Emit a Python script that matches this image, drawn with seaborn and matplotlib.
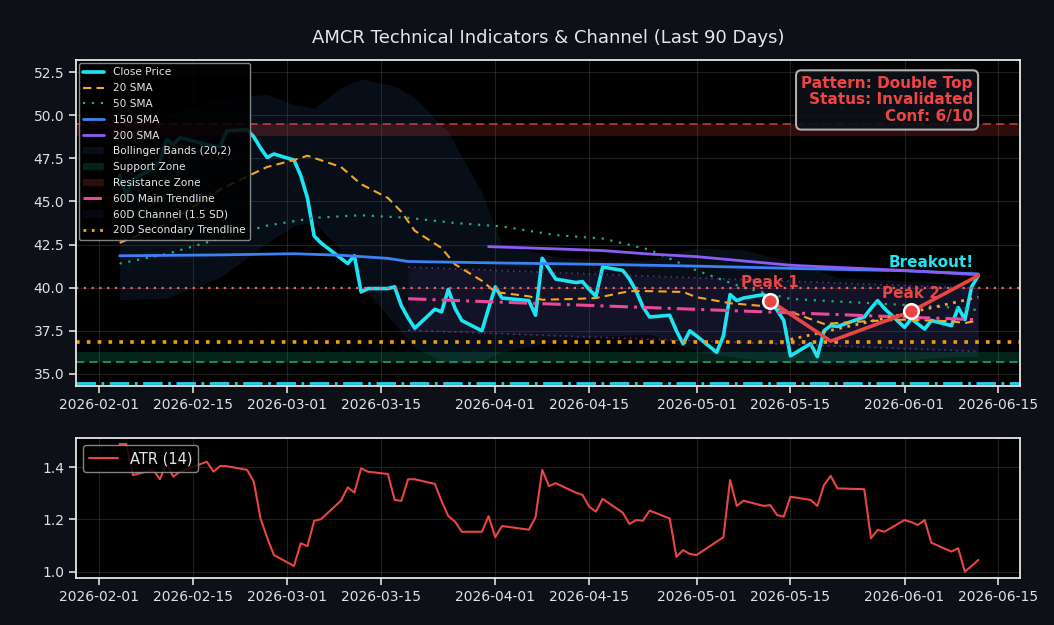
import numpy as np
import pandas as pd
import seaborn as sns
import matplotlib
matplotlib.use('Agg')
import matplotlib.pyplot as plt
import matplotlib.dates as mdates

# trading days (NYSE holidays removed)
dates = pd.bdate_range('2026-02-04', '2026-06-12', freq='C',
                       holidays=['2026-02-16', '2026-04-03', '2026-05-25'])

close = [46.5, 45.4, 46.3, 46.9, 47.3, 48.6, 48.3, 48.7, 48.3, 48.2,
         48.2, 49.1, 49.15, 48.75, 48.1, 47.55, 47.75, 47.4, 46.5, 45.2,
         43.0, 42.6, 41.7, 41.4, 41.85, 39.75, 39.95, 39.95, 40.05, 38.95,
         38.25, 37.65, 38.75, 38.6, 39.9, 38.8, 38.1, 37.5, 38.8, 40.05,
         39.4, 39.25, 38.4, 41.7, 41.1, 40.5, 40.3, 40.35, 39.9, 39.5,
         41.2, 41.0, 40.5, 39.8, 38.9, 38.3, 38.4, 37.5, 36.75, 37.5,
         37.2, 36.25, 37.2, 39.6, 39.25, 39.4, 39.6, 39.25, 38.7, 38.1,
         36.05, 36.75, 36.0, 37.5, 37.8, 37.75, 38.3, 38.8, 39.25, 38.8,
         37.7, 38.2, 37.9, 37.6, 38.1, 37.8, 38.85, 38.15, 40.05, 40.7]

atr = [1.489, 1.489, 1.370, 1.390, 1.354, 1.415, 1.364, 1.383, 1.421, 1.383,
       1.405, 1.404, 1.390, 1.345, 1.205, 1.130, 1.064, 1.022, 1.109, 1.098,
       1.195, 1.201, 1.272, 1.323, 1.303, 1.396, 1.383, 1.374, 1.275, 1.271,
       1.354, 1.354, 1.336, 1.270, 1.213, 1.192, 1.153, 1.153, 1.213, 1.132,
       1.175, 1.161, 1.209, 1.390, 1.328, 1.339, 1.303, 1.294, 1.249, 1.230,
       1.279, 1.226, 1.183, 1.198, 1.195, 1.234, 1.204, 1.057, 1.083, 1.068,
       1.064, 1.115, 1.132, 1.351, 1.252, 1.272, 1.252, 1.255, 1.217, 1.211,
       1.287, 1.275, 1.252, 1.332, 1.367, 1.319, 1.316, 1.128, 1.160, 1.153,
       1.198, 1.190, 1.179, 1.198, 1.111, 1.077, 1.090, 1.000, 1.022, 1.045]

# smooth indicators, read at selected trading-day positions
sma20_pos = [0, 5, 10, 15, 17, 19, 22, 25, 27, 29, 31, 33, 35, 37, 39, 41,
             43, 46, 49, 52, 55, 58, 60, 63, 67, 70, 73, 76, 80, 85, 87, 89]
sma20 = [42.6, 43.7, 45.7, 47.0, 47.4, 47.65, 47.0, 46.0, 45.2, 44.4, 43.3,
         42.3, 41.35, 40.4, 39.75, 39.5, 39.3, 39.35, 39.4, 39.8, 39.8, 39.75,
         39.45, 39.1, 38.9, 38.6, 37.9, 38.05, 38.15, 38.05, 37.95, 38.1]

sma50_pos = [0, 5, 10, 15, 20, 25, 30, 35, 40, 45, 50, 55, 60, 65, 70, 75, 80, 85, 89]
sma50 = [41.4, 41.95, 42.85, 43.6, 44.05, 44.2, 44.05, 43.75, 43.55, 43.05,
         42.85, 42.2, 41.0, 40.0, 39.35, 39.2, 39.0, 38.85, 38.7]

sma150_pos = [0, 10, 17, 22, 27, 30, 40, 50, 60, 70, 80, 89]
sma150 = [41.85, 41.9, 41.97, 41.88, 41.7, 41.52, 41.43, 41.35, 41.25, 41.12, 40.98, 40.8]

sma200_pos = [38, 45, 50, 55, 60, 65, 70, 80, 89]
sma200 = [42.38, 42.25, 42.15, 41.95, 41.8, 41.55, 41.3, 41.0, 40.75]

bb_pos = [0, 5, 10, 15, 17, 20, 22, 25, 28, 31, 34, 37, 40, 45, 50, 55, 60, 65,
          70, 75, 80, 85, 89]
bb_upper = [48.6, 50.0, 51.0, 51.2, 50.6, 50.4, 51.6, 52.1, 51.7, 51.0, 49.0,
            45.5, 42.5, 41.8, 41.6, 41.6, 42.3, 42.2, 41.5, 40.6, 40.4, 40.3, 40.3]
bb_lower = [39.3, 39.4, 40.6, 42.6, 43.6, 43.8, 42.2, 40.2, 37.9, 36.5, 35.6,
            35.7, 36.3, 36.9, 37.2, 37.3, 36.3, 35.9, 35.7, 35.5, 35.8, 36.0, 36.0]

# levels
resistance = 49.5
resistance_low = 48.78
support = 35.7
support_high = 36.25
level_red = 40.0
level_orange = 36.86
level_cyan = 34.5

# trendlines (start / end positions)
main_trend_pos = [30, 89]
main_trend = [39.36, 38.14]
channel_width = 1.83
sec_trend_pos = [70, 89]
sec_trend = [37.0, 39.45]

# double top pattern
pattern_pos = [67, 74, 81, 89]
pattern_vals = [39.24, 36.9, 38.62, 40.7]

BG = '#0d1117'
sns.set_style('dark')
plt.rcParams.update({
    'figure.facecolor': BG,
    'axes.facecolor': '#000000',
    'axes.edgecolor': '#e6e6e6',
    'text.color': '#e6e6e6',
    'xtick.color': '#e0e0e0',
    'ytick.color': '#e0e0e0',
    'xtick.bottom': True,
    'ytick.left': True,
    'font.family': ['DejaVu Sans'],
})

fig = plt.figure(figsize=(10.54, 6.25), dpi=100)
ax = fig.add_axes([0.0721, 0.3824, 0.8956, 0.5216])
ax2 = fig.add_axes([0.0721, 0.0752, 0.8956, 0.2240])

sns.lineplot(x=dates, y=close, ax=ax, color='#1de4f2', lw=2.6, label='Close Price')
sns.lineplot(x=dates[sma20_pos], y=sma20, ax=ax, color='#f5a524', lw=1.5,
             linestyle=(0, (4, 2.5)), label='20 SMA')
sns.lineplot(x=dates[sma50_pos], y=sma50, ax=ax, color='#1fae78', lw=1.6,
             linestyle=(0, (1, 3)), label='50 SMA')
sns.lineplot(x=dates[sma150_pos], y=sma150, ax=ax, color='#3b82f6', lw=2,
             label='150 SMA')
sns.lineplot(x=dates[sma200_pos], y=sma200, ax=ax, color='#8b5cf6', lw=2,
             label='200 SMA')
ax.fill_between(dates[bb_pos], bb_lower, bb_upper, color='#2d4a7a', alpha=0.2,
                lw=0, label='Bollinger Bands (20,2)')

ax.axhspan(support, support_high, color='#10b981', alpha=0.2, lw=0, label='Support Zone')
ax.axhline(support, color='#22a06b', lw=1.2, ls=(0, (5, 3)))
ax.axhspan(resistance_low, resistance, color='#ef4444', alpha=0.2, lw=0,
           label='Resistance Zone')
ax.axhline(resistance, color='#e5484d', lw=1.2, ls=(0, (5, 3)), alpha=0.8)

tr_dates = dates[main_trend_pos]
upper = [v + channel_width for v in main_trend]
lower = [v - channel_width for v in main_trend]
ax.plot(tr_dates, main_trend, color='#ec4899', lw=2.2, ls=(0, (6, 2, 1, 2)),
        label='60D Main Trendline')
ax.fill_between(tr_dates, lower, upper, color='#a855f7', alpha=0.07, lw=0,
                label='60D Channel (1.5 SD)')
ax.plot(tr_dates, upper, color='#8e44ad', lw=1.2, ls=(0, (1, 2.5)), alpha=0.6)
ax.plot(tr_dates, lower, color='#8e44ad', lw=1.2, ls=(0, (1, 2.5)), alpha=0.6)
ax.plot(dates[sec_trend_pos], sec_trend, color='#f5a524', lw=2, ls=(0, (1, 2)),
        label='20D Secondary Trendline')

ax.axhline(level_red, color='#ff5a5f', lw=1.6, ls=(0, (1, 2.5)))
ax.axhline(level_orange, color='#f59e0b', lw=2.6, ls=(0, (1, 2)))
ax.axhline(level_cyan, color='#22d3ee', lw=2, ls=(0, (7, 2, 1, 2)))

# double top
pd_dates = dates[pattern_pos]
ax.plot(pd_dates, pattern_vals, color='#e84545', lw=2.6, zorder=6)
ax.scatter(pd_dates[[0, 2]], [pattern_vals[0], pattern_vals[2]], s=110,
           color='#e84545', edgecolor='white', lw=1.8, zorder=7)
ax.text(pd_dates[0], pattern_vals[0] + 0.6, 'Peak 1', color='#e84545',
        fontsize=11, fontweight='bold', ha='center', va='bottom', zorder=8)
ax.text(pd_dates[2], pattern_vals[2] + 0.6, 'Peak 2', color='#e84545',
        fontsize=11, fontweight='bold', ha='center', va='bottom', zorder=8)
ax.text(pd_dates[3] - pd.Timedelta(days=7), pattern_vals[3] + 0.3, 'Breakout!',
        color='#22e3f0', fontsize=11, fontweight='bold', ha='center', va='bottom',
        zorder=8)

ax.text(0.950, 0.952, 'Pattern: Double Top\nStatus: Invalidated\nConf: 6/10',
        transform=ax.transAxes, ha='right', va='top', color='#ef4444',
        fontsize=11, fontweight='bold', linespacing=1.15, zorder=9,
        bbox=dict(boxstyle='round,pad=0.35', fc='#0d1117', ec='#bdbdbd', lw=1.5,
                  alpha=0.92))

ax.set_title('AMCR Technical Indicators & Channel (Last 90 Days)', fontsize=13,
             color='#e6e6e6', pad=12)
ax.legend(loc='upper left', fontsize=7.6, facecolor='#000000', edgecolor='#9a9a9a',
          framealpha=0.85, labelcolor='#e6e6e6', borderaxespad=0.3,
          labelspacing=0.55)

sns.lineplot(x=dates, y=atr, ax=ax2, color='#e84545', lw=1.5, label='ATR (14)')
ax2.legend(loc='upper left', fontsize=10.5, facecolor='#000000', edgecolor='#9a9a9a',
           framealpha=0.85, labelcolor='#e6e6e6')

xlim = (mdates.date2num(pd.Timestamp('2026-01-28 12:00')),
        mdates.date2num(pd.Timestamp('2026-06-18 05:00')))
for a in (ax, ax2):
    a.set_xlim(xlim)
    a.xaxis.set_major_locator(mdates.DayLocator(bymonthday=[1, 15]))
    a.xaxis.set_major_formatter(mdates.DateFormatter('%Y-%m-%d'))
    a.grid(True, color='#3a3a3a', lw=0.8, alpha=0.55)
    a.set_xlabel('')
    a.set_ylabel('')
    a.tick_params(labelsize=10, length=5, width=1.2, colors='#e0e0e0')
    for s in a.spines.values():
        s.set_color('#e6e6e6')
        s.set_linewidth(1.3)

ax.set_ylim(34.3, 53.2)
ax.set_yticks([35.0, 37.5, 40.0, 42.5, 45.0, 47.5, 50.0, 52.5])
ax2.set_ylim(0.976, 1.512)
ax2.set_yticks([1.0, 1.2, 1.4])

fig.savefig('out.png', dpi=100, facecolor=BG)
